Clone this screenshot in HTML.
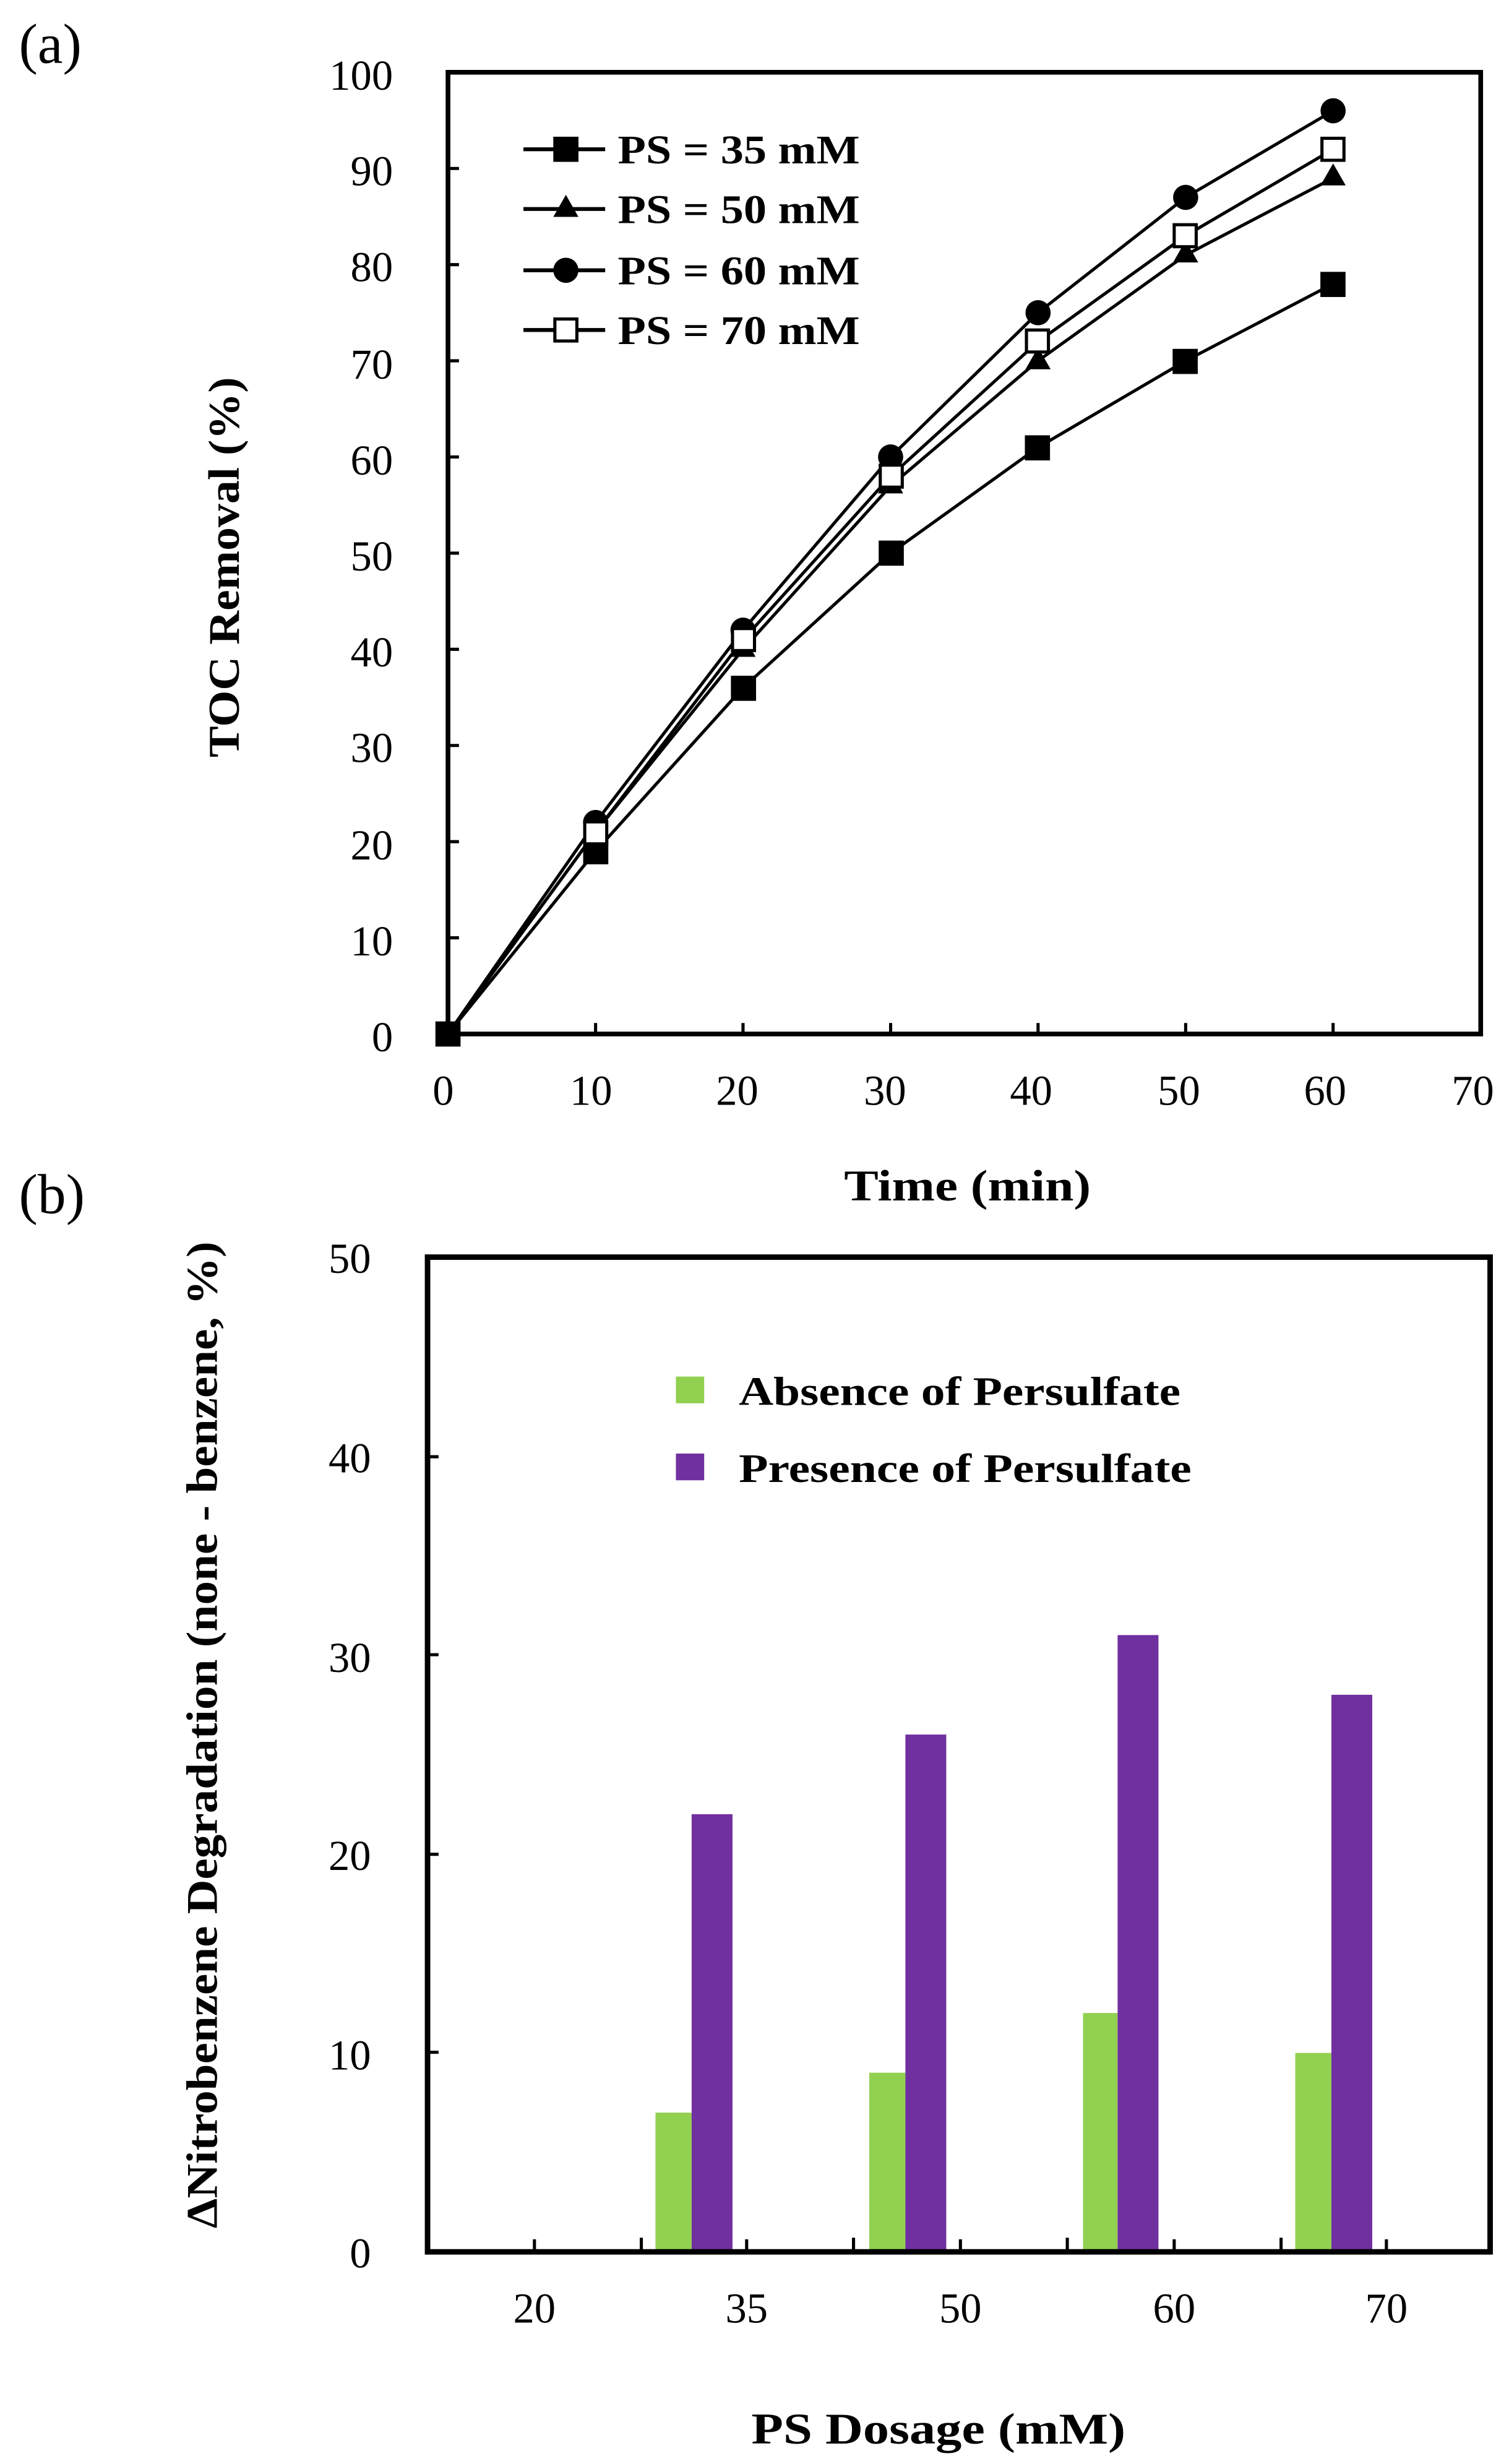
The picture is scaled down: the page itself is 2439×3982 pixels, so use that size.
<!DOCTYPE html>
<html><head><meta charset="utf-8"><style>
html,body{margin:0;padding:0;background:#fff;}
svg{display:block;}
text{font-family:"Liberation Serif",serif;fill:#000;}
</style></head><body>
<svg width="2439" height="3982" viewBox="0 0 960 1568" preserveAspectRatio="none" xmlns="http://www.w3.org/2000/svg">
<rect width="960" height="1568" fill="#fff"/>
<text x="12" y="40" font-size="36">(a)</text>
<text x="12" y="772" font-size="36">(b)</text>
<!-- Panel a -->
<rect x="285" y="46" width="657" height="612" fill="none" stroke="#000" stroke-width="3"/>
<g stroke="#000" stroke-width="2">
<line x1="285" y1="107.2" x2="292" y2="107.2"/><line x1="285" y1="168.4" x2="292" y2="168.4"/><line x1="285" y1="229.6" x2="292" y2="229.6"/><line x1="285" y1="290.8" x2="292" y2="290.8"/><line x1="285" y1="352" x2="292" y2="352"/><line x1="285" y1="413.2" x2="292" y2="413.2"/><line x1="285" y1="474.4" x2="292" y2="474.4"/><line x1="285" y1="535.6" x2="292" y2="535.6"/><line x1="285" y1="596.8" x2="292" y2="596.8"/>
<line x1="378.9" y1="658" x2="378.9" y2="651"/><line x1="472.7" y1="658" x2="472.7" y2="651"/><line x1="566.6" y1="658" x2="566.6" y2="651"/><line x1="660.4" y1="658" x2="660.4" y2="651"/><line x1="754.3" y1="658" x2="754.3" y2="651"/><line x1="848.1" y1="658" x2="848.1" y2="651"/>
</g>
<g font-size="27" text-anchor="end">
<text x="250" y="57">100</text><text x="250" y="118">90</text><text x="250" y="179">80</text><text x="250" y="241">70</text><text x="250" y="302">60</text><text x="250" y="363">50</text><text x="250" y="424">40</text><text x="250" y="485">30</text><text x="250" y="547">20</text><text x="250" y="608">10</text><text x="250" y="669">0</text>
</g>
<g font-size="27" text-anchor="middle">
<text x="282" y="703">0</text><text x="376" y="703">10</text><text x="469" y="703">20</text><text x="563" y="703">30</text><text x="656" y="703">40</text><text x="750" y="703">50</text><text x="843" y="703">60</text><text x="937" y="703">70</text>
</g>
<text x="537" y="764" font-size="28" font-weight="bold" textLength="157" lengthAdjust="spacingAndGlyphs">Time (min)</text>
<text transform="translate(152,482) rotate(-90)" font-size="28" font-weight="bold" textLength="242" lengthAdjust="spacingAndGlyphs">TOC Removal (%)</text>
<g fill="none" stroke="#000" stroke-width="2">
<polyline points="285,658 378.9,541.7 472.7,437.7 566.6,352 660.4,284.7 754.3,229.6 848.1,180.6"/>
<polyline points="285,658 378.9,529.5 472.7,413.2 566.6,309.2 660.4,229.6 754.3,162.3 848.1,113.3"/>
<polyline points="285,658 378.9,523.4 472.7,401 566.6,290.8 660.4,199 754.3,125.6 848.1,70.5"/>
<polyline points="285,658 378.9,529.5 472.7,407.1 566.6,303 660.4,217.4 754.3,150 848.1,95"/>
</g>
<g fill="#000">
<rect x="277" y="650" width="16" height="16"/>
<rect x="371" y="534" width="16" height="16"/><rect x="465" y="430" width="16" height="16"/><rect x="559" y="344" width="16" height="16"/><rect x="652" y="277" width="16" height="16"/><rect x="746" y="222" width="16" height="16"/><rect x="840" y="173" width="16" height="16"/>
<path d="M378.9,520 l8,14 h-16z M472.7,404 l8,14 h-16z M566.6,300 l8,14 h-16z M660.4,221 l8,14 h-16z M754.3,153 l8,14 h-16z M848.1,104 l8,14 h-16z"/>
<circle cx="378.9" cy="523.4" r="8"/><circle cx="472.7" cy="401" r="8"/><circle cx="566.6" cy="290.8" r="8"/><circle cx="660.4" cy="199" r="8"/><circle cx="754.3" cy="125.6" r="8"/><circle cx="848.1" cy="70.5" r="8"/>
</g>
<g fill="#fff" stroke="#000" stroke-width="2">
<rect x="372" y="523" width="14" height="14"/><rect x="466" y="400" width="14" height="14"/><rect x="560" y="296" width="14" height="14"/><rect x="653" y="210" width="14" height="14"/><rect x="747" y="143" width="14" height="14"/><rect x="841" y="88" width="14" height="14"/>
</g>
<!-- legend a -->
<g stroke="#000" stroke-width="2.5"><line x1="333" y1="95" x2="385" y2="95"/><line x1="333" y1="133" x2="385" y2="133"/><line x1="333" y1="172" x2="385" y2="172"/><line x1="333" y1="210" x2="385" y2="210"/></g>
<rect x="352" y="87" width="16" height="16" fill="#000"/>
<path d="M360,124 l8,14 h-16z" fill="#000"/>
<circle cx="360" cy="172" r="8" fill="#000"/>
<rect x="353" y="203" width="14" height="14" fill="#fff" stroke="#000" stroke-width="2"/>
<g font-size="26" font-weight="bold">
<text x="393" y="104" textLength="154" lengthAdjust="spacingAndGlyphs">PS = 35 mM</text><text x="393" y="142" textLength="154" lengthAdjust="spacingAndGlyphs">PS = 50 mM</text><text x="393" y="181" textLength="154" lengthAdjust="spacingAndGlyphs">PS = 60 mM</text><text x="393" y="219" textLength="154" lengthAdjust="spacingAndGlyphs">PS = 70 mM</text>
</g>
<!-- Panel b -->
<g fill="#92d050"><rect x="417" y="1344.4" width="23" height="88.6"/><rect x="553" y="1319" width="23" height="114"/><rect x="689" y="1281" width="22" height="152"/><rect x="824" y="1306.4" width="23" height="126.6"/></g>
<g fill="#7030a0"><rect x="440" y="1154.5" width="26" height="278.5"/><rect x="576" y="1103.8" width="26" height="329.2"/><rect x="711" y="1040.5" width="26" height="392.5"/><rect x="847" y="1078.5" width="26" height="354.5"/></g>
<rect x="272" y="800" width="676" height="633" fill="none" stroke="#000" stroke-width="3.5"/>
<g stroke="#000" stroke-width="2">
<line x1="340" y1="1433" x2="340" y2="1425"/><line x1="408" y1="1433" x2="408" y2="1424"/><line x1="475" y1="1433" x2="475" y2="1425"/><line x1="543" y1="1433" x2="543" y2="1424"/><line x1="611" y1="1433" x2="611" y2="1425"/><line x1="679" y1="1433" x2="679" y2="1424"/><line x1="747" y1="1433" x2="747" y2="1425"/><line x1="815" y1="1433" x2="815" y2="1424"/><line x1="882" y1="1433" x2="882" y2="1425"/>
<line x1="272" y1="927" x2="279" y2="927"/><line x1="272" y1="1053" x2="279" y2="1053"/><line x1="272" y1="1180" x2="279" y2="1180"/><line x1="272" y1="1306" x2="279" y2="1306"/>
</g>
<g font-size="27" text-anchor="end">
<text x="236" y="810">50</text><text x="236" y="937">40</text><text x="236" y="1064">30</text><text x="236" y="1190">20</text><text x="236" y="1317">10</text><text x="236" y="1443">0</text>
</g>
<g font-size="27" text-anchor="middle">
<text x="340" y="1478">20</text><text x="475" y="1478">35</text><text x="611" y="1478">50</text><text x="747" y="1478">60</text><text x="882" y="1478">70</text>
</g>
<text x="478" y="1555" font-size="28" font-weight="bold" textLength="238" lengthAdjust="spacingAndGlyphs">PS Dosage (mM)</text>
<text transform="translate(138,1418) rotate(-90)" font-size="28" font-weight="bold" textLength="628" lengthAdjust="spacingAndGlyphs">ΔNitrobenzene Degradation (none - benzene, %)</text>
<rect x="430" y="876" width="18" height="17" fill="#92d050"/>
<rect x="430" y="925" width="18" height="17" fill="#7030a0"/>
<g font-size="26" font-weight="bold"><text x="470" y="894" textLength="281" lengthAdjust="spacingAndGlyphs">Absence of Persulfate</text><text x="470" y="943" textLength="288" lengthAdjust="spacingAndGlyphs">Presence of Persulfate</text></g>
</svg>
</body></html>
